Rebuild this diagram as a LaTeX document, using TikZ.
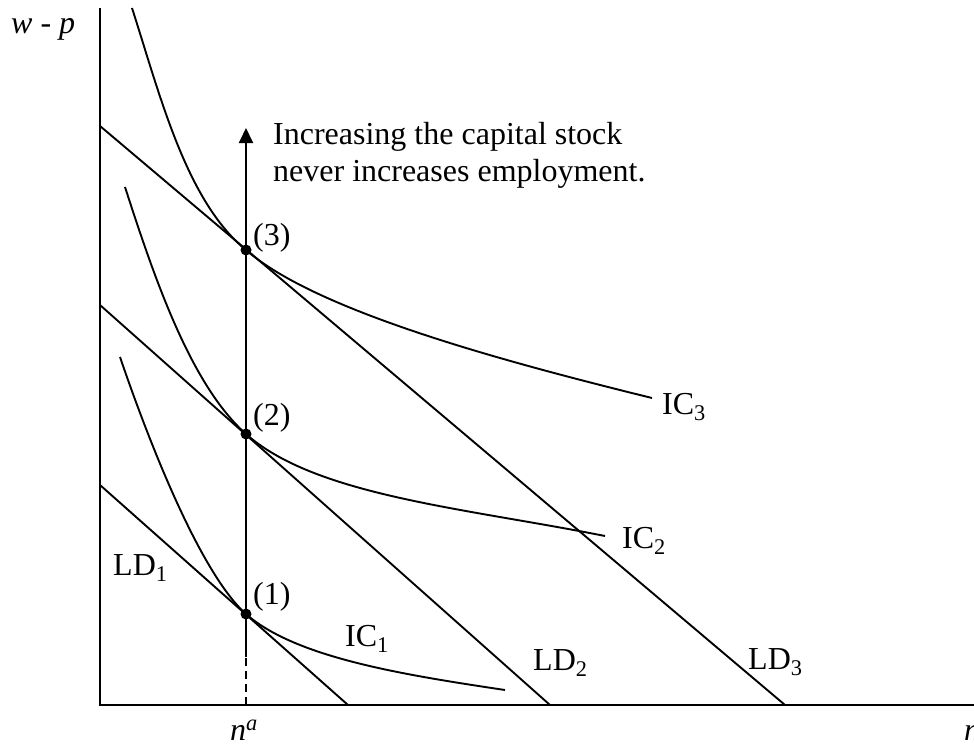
\documentclass[tikz,border=0pt]{standalone}
\usepackage{fontspec}
\setmainfont{Liberation Serif}
\usetikzlibrary{arrows.meta}
\begin{document}
\begin{tikzpicture}[x=1pt,y=-1pt,
  axis/.style={line width=2.4pt},
  curve/.style={line width=1.9pt},
  lbl/.style={inner sep=0pt, anchor=base west, font=\fontsize{32}{37}\selectfont},
  dotpt/.style={circle, fill=black, inner sep=0pt, minimum size=11pt}]
\useasboundingbox (0,0) rectangle (974,747);
% axes
\coordinate (O) at (100,705);
\coordinate (Ytop) at (100,8);
\coordinate (Xend) at (990,705);
\draw[axis] (Ytop) -- (O) -- (Xend);
% labour demand lines
\coordinate (LD1a) at (100,485);
\coordinate (LD1b) at (348,705);
\coordinate (LD2a) at (100,305);
\coordinate (LD2b) at (550,705);
\coordinate (LD3a) at (100,126);
\coordinate (LD3b) at (785,705);
\draw[curve] (LD1a) -- (LD1b);
\draw[curve] (LD2a) -- (LD2b);
\draw[curve] (LD3a) -- (LD3b);
% tangency points
\node[dotpt] (p1) at (246,614) {};
\node[dotpt] (p2) at (246,434) {};
\node[dotpt] (p3) at (246,250) {};
% indifference curves
\coordinate (IC1a) at (120,357);
\coordinate (IC1b) at (505,690);
\coordinate (IC2a) at (125,187);
\coordinate (IC2b) at (605,536);
\coordinate (IC3a) at (132,8);
\coordinate (IC3b) at (652,398);
\draw[curve] (IC1a) .. controls (150,445) and (201,574) .. (p1.center)
  .. controls (296,658) and (405,675) .. (IC1b);
\draw[curve] (IC2a) .. controls (155,280) and (191,385) .. (p2.center)
  .. controls (316,496) and (465,508) .. (IC2b);
\draw[curve] (IC3a) .. controls (160,95) and (186,201) .. (p3.center)
  .. controls (316,311) and (502,361) .. (IC3b);
% vertical arrow
\coordinate (na) at (246,705);
\coordinate (dashtop) at (246,657);
\coordinate (tip) at (246,128);
\draw[curve, dash pattern=on 8pt off 5pt] (na) -- (dashtop);
\draw[curve, -{Triangle[length=15pt,width=14pt]}] (dashtop) -- (tip);
% labels
\node[lbl] (t1) at (273,144) {Increasing the capital stock};
\node[lbl] (t2) at (273,181) {never increases employment.};
\node[lbl] (l3) at (253,245) {(3)};
\node[lbl] (l2) at (253,425) {(2)};
\node[lbl] (l1) at (253,604) {(1)};
\node[lbl] (ld1) at (113,575) {LD\textsubscript{1}};
\node[lbl] (ld2) at (533,670) {LD\textsubscript{2}};
\node[lbl] (ld3) at (748,669) {LD\textsubscript{3}};
\node[lbl] (ic1) at (345,646) {IC\textsubscript{1}};
\node[lbl] (ic2) at (622,548) {IC\textsubscript{2}};
\node[lbl] (ic3) at (662,414) {IC\textsubscript{3}};
\node[lbl] (wp) at (11,33) {\textit{w} - \textit{p}};
\node[lbl] (nalab) at (230,740) {\textit{n}\textsuperscript{\textit{a}}};
\node[lbl] (nlab) at (964,740) {\textit{n}};
\end{tikzpicture}
\end{document}
